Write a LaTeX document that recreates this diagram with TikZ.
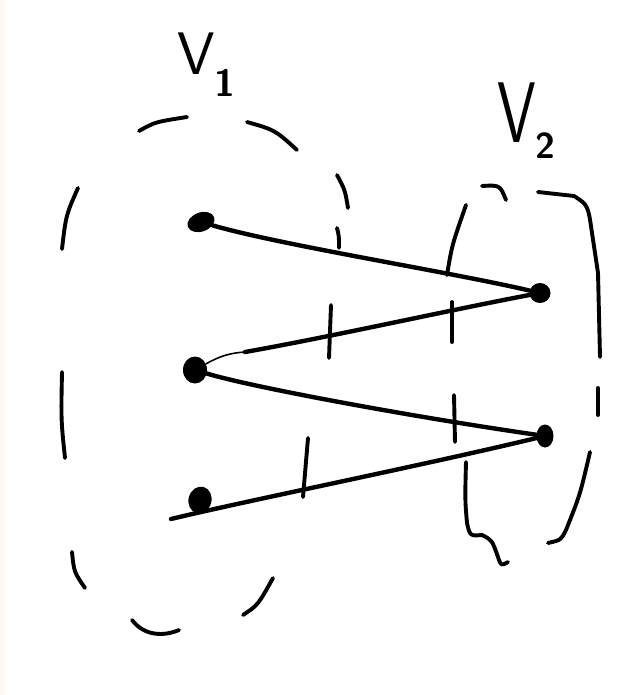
\documentclass[tikz,border=0pt]{standalone}
\usepackage{fontspec}
\usepackage{graphicx}
\usetikzlibrary{shapes.geometric}
\definecolor{stripcol}{RGB}{255,247,242}
\tikzset{
  stroke/.style={line width=3.9pt, line cap=round, line join=round},
  edge/.style={line width=4.4pt, line cap=round},
  hairline/.style={line width=1.6pt, line cap=round},
  dot/.style={ellipse, fill=black, draw=none, inner sep=0pt},
  lab/.style={font=\sffamily, inner sep=0pt, anchor=base west}
}
\begin{document}
\begin{tikzpicture}[x=1pt,y=-1pt]
\useasboundingbox (0,0) rectangle (630,695);
\fill[white] (0,0) rectangle (630,695);
\fill[stripcol] (0,0) rectangle (5,695);

% labels
\node[lab] (v1) at (177,75) {\fontsize{60}{60}\selectfont V\raisebox{-22pt}{\fontsize{38}{38}\selectfont\bfseries 1}};
\node[lab] (v2) at (497,143) {\scalebox{0.72}[1]{\fontsize{86}{86}\selectfont V}\raisebox{-15pt}{\fontsize{36}{36}\selectfont\bfseries 2}};

% vertices
\node[dot, minimum width=28pt, minimum height=19pt, rotate=20] (a1) at (201,222) {};
\node[dot, minimum width=24pt, minimum height=27pt] (a2) at (195,370) {};
\node[dot, minimum width=23pt, minimum height=27pt, rotate=-15] (a3) at (200,500) {};
\node[dot, minimum width=21pt, minimum height=20pt] (b1) at (540,293) {};
\node[dot, minimum width=17pt, minimum height=23pt] (b2) at (545,436) {};
\coordinate (a3tail) at (171,519);
\coordinate (k1) at (245,352);

% V1 dashed outline
\draw[stroke] (139,131) .. controls (155,122) .. (187,117);
\draw[stroke] (247,122) .. controls (275,130) .. (297,150);
\draw[stroke] (337,175) .. controls (345,190) .. (348,208);
\draw[stroke] (337,228) .. controls (339,236) .. (339,248);
\draw[stroke] (331,305) -- (329,358);
\draw[stroke] (78,188) .. controls (66,215) .. (62,249);
\draw[stroke] (62,372) .. controls (61,420) .. (65,458);
\draw[stroke] (72,552) .. controls (74,572) .. (85,588);
\draw[stroke] (132,620) .. controls (145,637) and (165,636) .. (179,630);
\draw[stroke] (243,615) .. controls (258,605) .. (273,578);
\draw[stroke] (308,438) -- (303,497);

% V2 outline
\draw[stroke] (466,205) .. controls (452,245) .. (447,275);
\draw[stroke] (482,186) .. controls (500,185) .. (506,200);
\draw[stroke] (538,192) -- (574,196) .. controls (588,205) .. (592,233) -- (598,273) -- (600,357);
\draw[stroke] (598,388) -- (598,415);
\draw[stroke] (590,452) .. controls (580,495) .. (566,530) .. controls (561,540) .. (548,543);
\draw[stroke] (452,302) -- (452,342);
\draw[stroke] (454,395) -- (455,442);
\draw[stroke] (466,462) .. controls (465,500) .. (467,523) .. controls (470,536) .. (482,535) .. controls (492,540) .. (498,557) .. controls (501,566) .. (508,562);

% edges
\draw[edge] (a1) .. controls (280,245) and (450,272) .. (b1);
\draw[hairline] (a2) .. controls (220,356) and (230,353) .. (k1);
\draw[edge] (k1) .. controls (330,337) and (450,310) .. (b1);
\draw[edge] (a2) .. controls (255,388) and (420,418) .. (b2);
\draw[edge] (a3tail) .. controls (250,500) and (420,466) .. (b2);
\end{tikzpicture}
\end{document}
